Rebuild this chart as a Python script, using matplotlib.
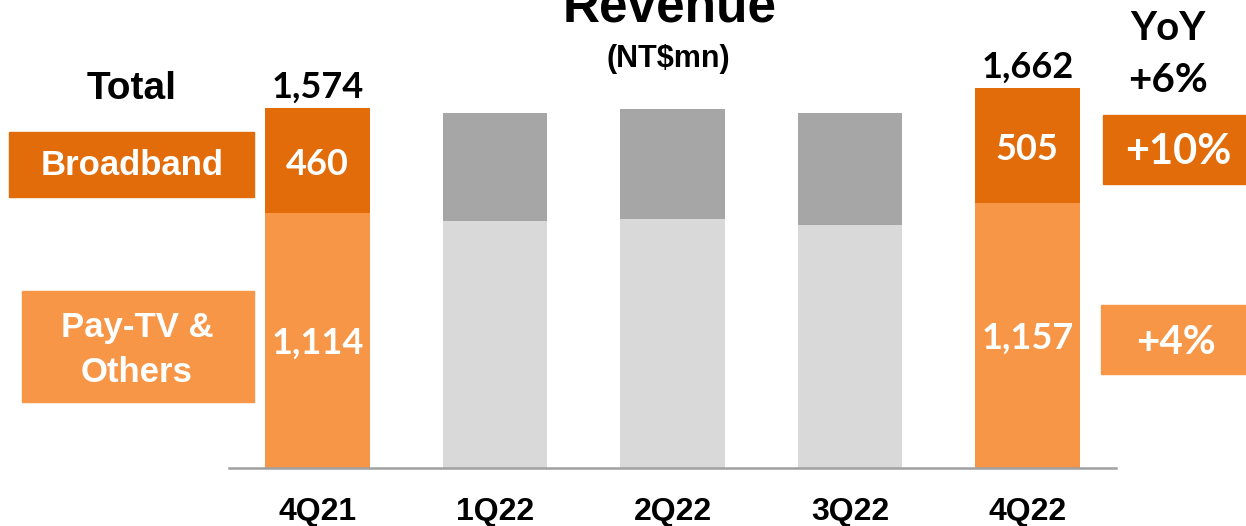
import numpy as np
import matplotlib
matplotlib.use("Agg")
import matplotlib.pyplot as plt
from matplotlib.patches import Rectangle

# Data (NT$mn)
quarters = ["4Q21", "1Q22", "2Q22", "3Q22", "4Q22"]
paytv = [1114, 1080, 1089, 1062, 1157]
broadband = [460, 472, 481, 490, 505]
highlight = [True, False, False, False, True]
yoy_total = "+6%"
yoy_broadband = "+10%"
yoy_paytv = "+4%"

dark_orange = "#E36C0A"
light_orange = "#F79646"
dark_gray = "#A6A6A6"
light_gray = "#D9D9D9"

ARIAL = "Liberation Sans"
CALIBRI = "Lato"

W, H = 1246, 526
fig = plt.figure(figsize=(W / 100, H / 100), dpi=100)


def px(x, y):
    return x / W, 1 - y / H


# axes: x from 229 to 1116 px, baseline at 468 px, 0.2287 px per unit
ymax = 1800
ax_h = ymax * 0.2287
ax = fig.add_axes([229 / W, (H - 468) / H, (1116 - 229) / W, ax_h / H])

x = np.arange(len(quarters))
paytv = np.array(paytv)
broadband = np.array(broadband)
total = paytv + broadband
c_bot = [light_orange if h else light_gray for h in highlight]
c_top = [dark_orange if h else dark_gray for h in highlight]

ax.bar(x, paytv, width=0.59, color=c_bot, zorder=2)
ax.bar(x, broadband, bottom=paytv, width=0.59, color=c_top, zorder=2)

for i in x:
    if not highlight[i]:
        continue
    ax.annotate(f"{paytv[i]:,}", (i, paytv[i] / 2), xytext=(0, -2), textcoords="offset points",
                ha="center", va="center", color="white", fontsize=26, fontweight="bold",
                family=CALIBRI)
    ax.annotate(f"{broadband[i]:,}", (i, paytv[i] + broadband[i] / 2), xytext=(0, -3),
                textcoords="offset points", ha="center", va="center", color="white",
                fontsize=26, fontweight="bold", family=CALIBRI)
    ax.annotate(f"{total[i]:,}", (i, total[i]), xytext=(0, 3), textcoords="offset points",
                ha="center", va="bottom", fontsize=26, fontweight="bold", family=CALIBRI)

ax.set_xlim(-0.5, 4.5)
ax.set_ylim(0, ymax)
ax.set_xticks(x)
ax.set_xticklabels(quarters, fontsize=23, fontweight="bold", family=ARIAL)
ax.tick_params(axis="x", length=0, pad=21)
ax.set_yticks([])
for s in ["top", "left", "right"]:
    ax.spines[s].set_visible(False)
ax.spines["bottom"].set_color("#A0A0A0")
ax.spines["bottom"].set_linewidth(1.8)


def box(x0, y0, x1, y1, color):
    (fx0, fy1), (fx1, fy0) = px(x0, y0), px(x1, y1)
    fig.patches.append(Rectangle((fx0, fy0), fx1 - fx0, fy1 - fy0, transform=fig.transFigure,
                                 color=color, zorder=1))


def label(x0, y0, s, size, family, color="black", ls=1.1):
    fx, fy = px(x0, y0)
    fig.text(fx, fy, s, ha="center", va="center", fontsize=size, fontweight="bold",
             family=family, color=color, linespacing=ls)


# title (cut at the top edge, as in the original slide)
label(670, 8, "Revenue", 37, ARIAL)
label(668, 59, "(NT$mn)", 22, ARIAL)

# left legend
label(132, 89, "Total", 28, ARIAL)
box(9, 132, 254, 197, dark_orange)
label(132, 165, "Broadband", 25, ARIAL, "white")
box(22, 291, 254, 402, light_orange)
label(137, 350, "Pay-TV &\nOthers", 25, ARIAL, "white", ls=1.45)

# right YoY
label(1168, 29, "YoY", 29, CALIBRI)
label(1168, 80, yoy_total, 29, CALIBRI)
box(1103, 115, 1246, 184, dark_orange)
label(1178, 152, yoy_broadband, 30, CALIBRI, "white")
box(1101, 305, 1246, 374, light_orange)
label(1176, 343, yoy_paytv, 29, CALIBRI, "white")

fig.savefig("out.png", dpi=100)
